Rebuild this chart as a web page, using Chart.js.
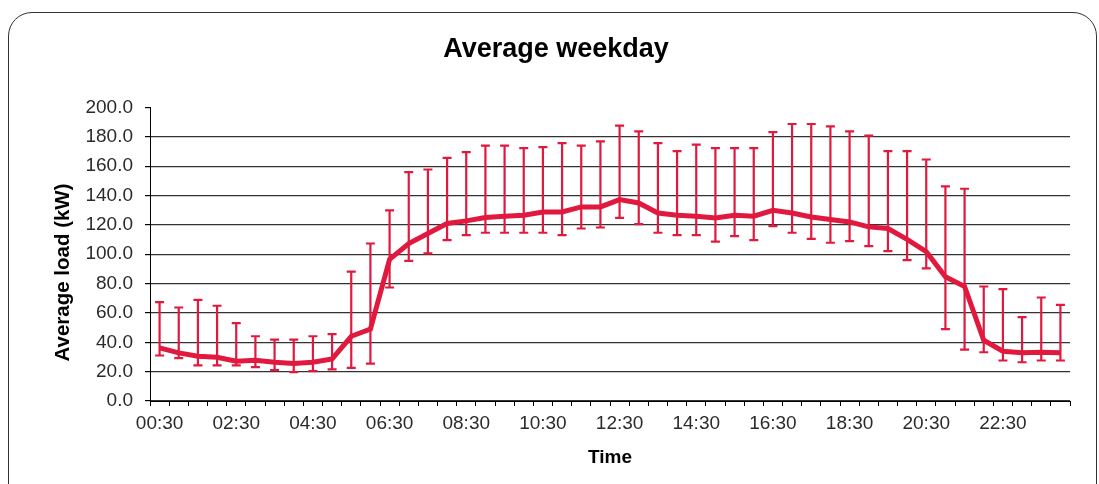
<!DOCTYPE html>
<html>
<head>
<meta charset="utf-8">
<title>Average weekday</title>
<script src="https://cdn.jsdelivr.net/npm/chart.js@4.4.0/dist/chart.umd.min.js"></script>
<style>
  html, body { margin: 0; padding: 0; background: #fff; overflow: hidden; }
  #wrap { position: relative; width: 1099px; height: 484px; overflow: hidden; }
  #frame {
    position: absolute; left: 8px; top: 12px; width: 1087px; height: 540px;
    border: 1.5px solid #333; border-radius: 24px; pointer-events: none;
  }
</style>
</head>
<body>
<div id="wrap">
  <canvas id="myChart"></canvas>
  <div id="frame"></div>
</div>
<script>
// half hour slots
const timeLabels = [
  "00:30", "01:00", "01:30", "02:00", "02:30", "03:00", "03:30", "04:00",
  "04:30", "05:00", "05:30", "06:00", "06:30", "07:00", "07:30", "08:00",
  "08:30", "09:00", "09:30", "10:00", "10:30", "11:00", "11:30", "12:00",
  "12:30", "13:00", "13:30", "14:00", "14:30", "15:00", "15:30", "16:00",
  "16:30", "17:00", "17:30", "18:00", "18:30", "19:00", "19:30", "20:00",
  "20:30", "21:00", "21:30", "22:00", "22:30", "23:00", "23:30", "24:00",
];

// average load (kW)
const avgLoad = [
  36.2, 32.8, 30.5, 29.8, 27.1, 27.8, 26.4, 25.5, 26.4, 28.7, 44.1, 49.0,
  96.5, 107.3, 114.1, 120.9, 122.7, 125.0, 125.9, 126.6, 128.8, 128.8, 132.2, 132.2,
  137.2, 134.9, 128.1, 126.6, 125.9, 124.7, 126.6, 125.9, 129.9, 128.1, 125.4, 123.6,
  122.0, 118.6, 117.5, 110.1, 101.7, 84.7, 78.0, 41.4, 33.9, 32.8, 33.2, 32.8,
];

// error bar ends
const highLoad = [
  67.3, 63.7, 68.9, 64.9, 53.1, 44.1, 41.8, 41.8, 44.1, 45.6, 88.1, 107.3,
  129.9, 155.9, 157.7, 165.6, 169.5, 174.0, 174.0, 172.2, 172.9, 175.6, 174.0, 176.9,
  187.6, 183.7, 175.6, 170.2, 174.7, 172.2, 172.2, 172.2, 183.1, 188.7, 188.7, 187.1,
  183.7, 180.8, 170.2, 170.2, 164.5, 146.2, 144.6, 78.0, 76.2, 57.2, 70.5, 65.5,
];
const lowLoad = [
  31.0, 29.2, 24.2, 24.2, 24.2, 23.1, 21.0, 19.7, 20.3, 21.5, 22.6, 25.5,
  77.3, 95.4, 100.6, 109.6, 113.0, 114.6, 114.6, 114.6, 114.6, 113.0, 117.5, 118.2,
  124.7, 120.5, 114.6, 113.0, 113.0, 108.5, 112.3, 109.6, 119.1, 114.6, 110.5, 107.8,
  108.9, 105.5, 102.1, 96.0, 90.4, 49.0, 35.0, 33.2, 27.6, 26.4, 27.6, 27.6,
];

const yTicks = [0, 20, 40, 60, 80, 100, 120, 140, 160, 180, 200];

const RED = "#e2193f";
const FONT = "'Liberation Sans', Arial, sans-serif";

// draws the min/max whiskers under the line
const errorBars = {
  id: "errorBars",
  beforeDatasetsDraw(chart) {
    const { ctx, scales: { x, y } } = chart;
    ctx.save();
    ctx.strokeStyle = RED;
    ctx.lineWidth = 2.2;
    for (let i = 0; i < avgLoad.length; i++) {
      const px = x.getPixelForValue(i);
      const top = y.getPixelForValue(highLoad[i]);
      const bot = y.getPixelForValue(lowLoad[i]);
      ctx.beginPath();
      ctx.moveTo(px, top);
      ctx.lineTo(px, bot);
      ctx.moveTo(px - 4.5, top);
      ctx.lineTo(px + 4.5, top);
      ctx.moveTo(px - 4.5, bot);
      ctx.lineTo(px + 4.5, bot);
      ctx.stroke();
    }
    ctx.restore();
  },
};

// y axis title sits a bit below the middle of the plot, like the original
const yAxisTitle = {
  id: "yAxisTitle",
  afterDraw(chart) {
    const { ctx } = chart;
    ctx.save();
    ctx.translate(63, 272.5);
    ctx.rotate(-Math.PI / 2);
    ctx.font = "bold 20.5px " + FONT;
    ctx.fillStyle = "#000";
    ctx.textAlign = "center";
    ctx.textBaseline = "middle";
    ctx.fillText("Average load (kW)", 0, 0);
    ctx.restore();
  },
};

Chart.defaults.font.family = FONT;
Chart.defaults.color = "#2b2b2b";

const myChart = new Chart(document.getElementById("myChart"), {
  type: "line",
  data: {
    labels: timeLabels,
    datasets: [
      {
        label: "Average load",
        data: avgLoad,
        borderColor: RED,
        backgroundColor: RED,
        borderWidth: 5,
        pointRadius: 0,
        tension: 0,
        fill: false,
      },
    ],
  },
  options: {
    responsive: true,
    maintainAspectRatio: false,
    animation: false,
    // left padding keeps the title centred where the original has it
    layout: { padding: { left: 42, right: 29, top: 0, bottom: 0 } },
    plugins: {
      legend: { display: false },
      tooltip: { enabled: false },
      title: {
        display: true,
        text: "Average weekday",
        color: "#000",
        font: { size: 27, weight: "bold", family: FONT },
        padding: { top: 33, bottom: 42 },
      },
    },
    scales: {
      x: {
        offset: true,
        grid: {
          offset: true,
          drawOnChartArea: false,
          tickLength: 5,
          tickColor: "#000",
        },
        border: { color: "#000", width: 1 },
        ticks: {
          autoSkip: false,
          maxRotation: 0,
          padding: 6,
          font: { size: 19 },
          callback: (v, i) => (i % 4 === 0 ? timeLabels[i] : ""),
        },
        title: {
          display: true,
          text: "Time",
          color: "#000",
          font: { size: 19, weight: "bold" },
          padding: { top: 0, bottom: 15 },
        },
        afterFit: (s) => { s.height = 83; },
      },
      y: {
        min: 0,
        max: 200,
        afterBuildTicks: (s) => { s.ticks = yTicks.map((v) => ({ value: v })); },
        grid: {
          color: (c) => (c.tick && c.tick.value === 200 ? "rgba(0,0,0,0)" : "#333"),
          lineWidth: 1.2,
          tickLength: 5,
          tickColor: "#000",
        },
        border: { color: "#000", width: 1 },
        ticks: {
          padding: 12,
          font: { size: 19 },
          callback: (v) => Number(v).toFixed(1),
        },
        afterFit: (s) => { s.width = 108; },
      },
    },
  },
  plugins: [errorBars, yAxisTitle],
});
</script>
</body>
</html>
